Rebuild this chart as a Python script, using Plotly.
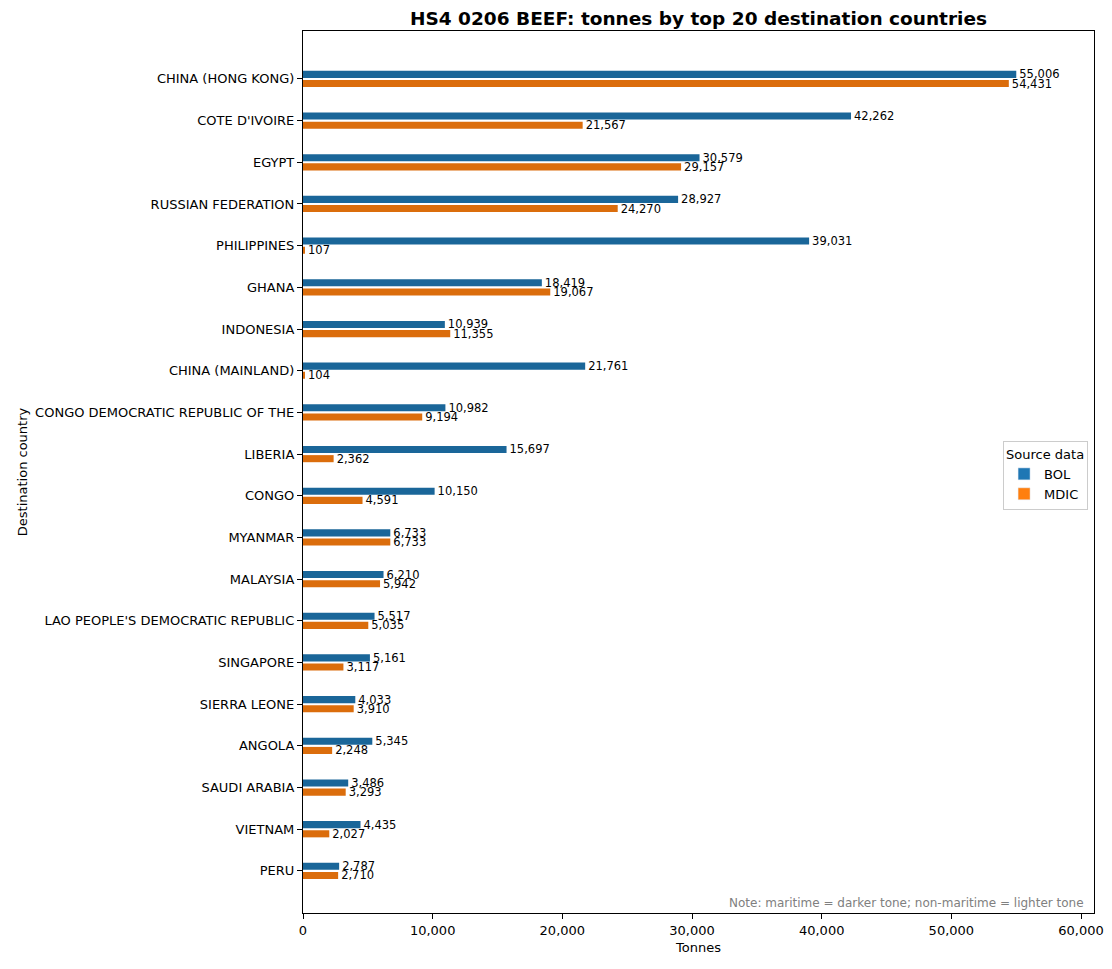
import plotly.graph_objects as go

countries = [
    "CHINA (HONG KONG)", "COTE D'IVOIRE", "EGYPT", "RUSSIAN FEDERATION", "PHILIPPINES",
    "GHANA", "INDONESIA", "CHINA (MAINLAND)", "CONGO DEMOCRATIC REPUBLIC OF THE", "LIBERIA",
    "CONGO", "MYANMAR", "MALAYSIA", "LAO PEOPLE'S DEMOCRATIC REPUBLIC", "SINGAPORE",
    "SIERRA LEONE", "ANGOLA", "SAUDI ARABIA", "VIETNAM", "PERU",
]
bol = [55006, 42262, 30579, 28927, 39031, 18419, 10939, 21761, 10982, 15697,
       10150, 6733, 6210, 5517, 5161, 4033, 5345, 3486, 4435, 2787]
mdic = [54431, 21567, 29157, 24270, 107, 19067, 11355, 104, 9194, 2362,
        4591, 6733, 5942, 5035, 3117, 3910, 2248, 3293, 2027, 2710]

FONT = "DejaVu Sans, sans-serif"

fig = go.Figure()

# bars drawn in the darker (maritime) tone, legend keeps the base colours
fig.add_trace(go.Bar(
    y=countries, x=bol, orientation="h", name="BOL", showlegend=False,
    marker=dict(color="#1a6699", line=dict(width=0)),
    offset=-0.195, width=0.17,
    text=[f"{v:,}" for v in bol], textposition="outside", constraintext="none",
    textfont=dict(size=11.5, color="black", family=FONT), cliponaxis=False,
))
fig.add_trace(go.Bar(
    y=countries, x=mdic, orientation="h", name="MDIC", showlegend=False,
    marker=dict(color="#db6d0c", line=dict(width=0)),
    offset=0.025, width=0.17,
    text=[f"{v:,}" for v in mdic], textposition="outside", constraintext="none",
    textfont=dict(size=11.5, color="black", family=FONT), cliponaxis=False,
))
# legend entries
fig.add_trace(go.Bar(y=[countries[0]], x=[None], orientation="h", name="BOL",
                     marker=dict(color="#1f77b4")))
fig.add_trace(go.Bar(y=[countries[0]], x=[None], orientation="h", name="MDIC",
                     marker=dict(color="#ff7f0e")))

fig.update_layout(
    width=1104, height=953,
    barmode="overlay",
    plot_bgcolor="white", paper_bgcolor="white",
    font=dict(family=FONT, size=13, color="black"),
    margin=dict(l=295, r=18, t=23, b=48),
    title=dict(text="<b>HS4 0206 BEEF: tonnes by top 20 destination countries</b>",
               x=0.5, xref="paper", xanchor="center", y=1 - 11 / 953, yanchor="middle",
               font=dict(size=18.5, family=FONT)),
    xaxis=dict(
        range=[0, 61000], tickformat=",", dtick=10000, automargin=False,
        showgrid=False, zeroline=False,
        showline=True, linecolor="black", linewidth=1.2, mirror=True,
        ticks="outside", ticklen=5, tickcolor="black",
        title=dict(text="Tonnes", font=dict(size=13), standoff=6),
    ),
    yaxis=dict(
        categoryorder="array", categoryarray=countries,
        range=[20.01, -1.15], automargin=False,
        showgrid=False, zeroline=False,
        showline=True, linecolor="black", linewidth=1.2, mirror=True,
        ticks="outside", ticklen=5, tickcolor="black",
        title=dict(text="Destination country", font=dict(size=13), standoff=4),
    ),
    legend=dict(
        title=dict(text="Source data", font=dict(size=13)),
        x=0.9925, xanchor="right", y=0.496, yanchor="middle",
        bordercolor="#cccccc", borderwidth=1, bgcolor="white",
        font=dict(size=13),
    ),
    annotations=[dict(
        text="Note: maritime = darker tone; non-maritime = lighter tone",
        xref="paper", yref="paper", x=0.99, y=0.0113, xanchor="right", yanchor="middle",
        showarrow=False, font=dict(size=12, color="gray"),
    )],
)

fig.write_html("out.html")
